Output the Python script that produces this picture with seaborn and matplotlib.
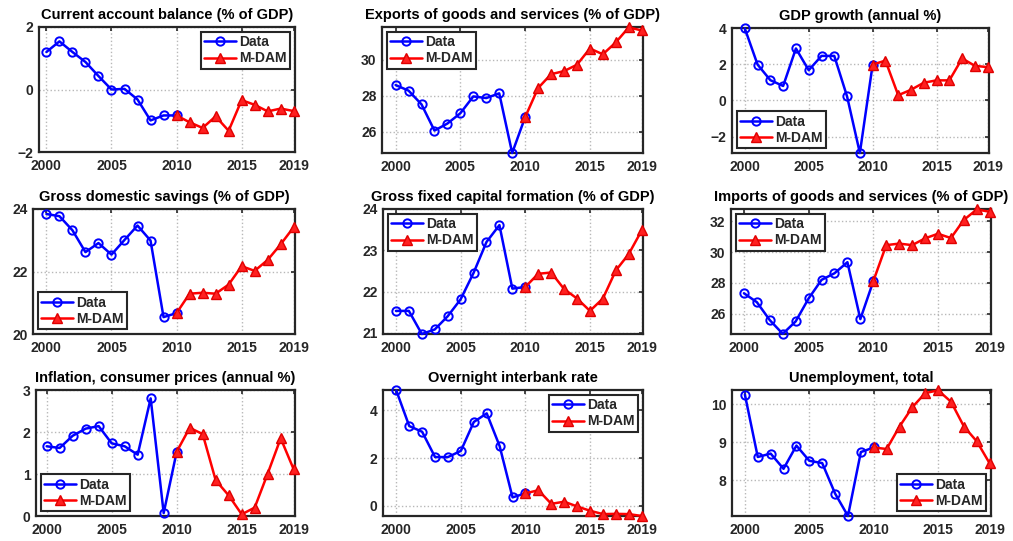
import matplotlib
matplotlib.use("Agg")
import matplotlib.pyplot as plt
import seaborn as sns

years_data = list(range(2000, 2011))
years_model = list(range(2010, 2020))

titles = [
    "Current account balance (% of GDP)",
    "Exports of goods and services (% of GDP)",
    "GDP growth (annual %)",
    "Gross domestic savings (% of GDP)",
    "Gross fixed capital formation (% of GDP)",
    "Imports of goods and services (% of GDP)",
    "Inflation, consumer prices (annual %)",
    "Overnight interbank rate",
    "Unemployment, total",
]

ca_data = [1.20, 1.54, 1.20, 0.88, 0.43, 0.00, 0.02, -0.32, -0.99, -0.83, -0.83]
ca_model = [-0.83, -1.05, -1.23, -0.86, -1.32, -0.34, -0.49, -0.70, -0.61, -0.69]

exp_data = [28.59, 28.28, 27.52, 26.07, 26.46, 27.03, 27.96, 27.87, 28.13, 24.83, 26.81]
exp_model = [26.81, 28.42, 29.19, 29.36, 29.71, 30.61, 30.29, 30.95, 31.78, 31.61]

gdp_data = [3.98, 1.98, 1.12, 0.80, 2.87, 1.67, 2.46, 2.46, 0.22, -2.90, 1.98]
gdp_model = [1.98, 2.20, 0.29, 0.59, 0.98, 1.11, 1.11, 2.32, 1.91, 1.84]

sav_data = [23.84, 23.77, 23.32, 22.62, 22.91, 22.54, 23.01, 23.47, 22.99, 20.54, 20.67]
sav_model = [20.67, 21.29, 21.32, 21.29, 21.58, 22.17, 22.02, 22.37, 22.87, 23.42]

gfcf_data = [21.53, 21.53, 20.97, 21.08, 21.40, 21.81, 22.45, 23.20, 23.61, 22.07, 22.11]
gfcf_model = [22.11, 22.43, 22.46, 22.06, 21.83, 21.53, 21.83, 22.51, 22.91, 23.48]

imp_data = [27.32, 26.74, 25.57, 24.68, 25.49, 26.98, 28.19, 28.62, 29.34, 25.64, 28.10]
imp_model = [28.10, 30.45, 30.55, 30.45, 30.89, 31.19, 30.91, 32.09, 32.77, 32.62]

inf_data = [1.66, 1.62, 1.91, 2.08, 2.14, 1.73, 1.66, 1.46, 2.80, 0.07, 1.53]
inf_model = [1.53, 2.10, 1.95, 0.85, 0.49, 0.04, 0.20, 1.01, 1.85, 1.11]

rate_data = [4.83, 3.34, 3.10, 2.04, 2.04, 2.30, 3.51, 3.87, 2.50, 0.35, 0.52]
rate_model = [0.52, 0.65, 0.08, 0.17, -0.03, -0.21, -0.35, -0.34, -0.35, -0.43]

unemp_data = [10.25, 8.61, 8.70, 8.30, 8.91, 8.51, 8.45, 7.65, 7.06, 8.74, 8.86]
unemp_model = [8.86, 8.82, 9.41, 9.92, 10.29, 10.36, 10.06, 9.41, 9.02, 8.44]

x_ticks = [2000, 2005, 2010, 2015, 2019]
y_ticks = [
    [-2, 0, 2],
    [26, 28, 30],
    [-2, 0, 2, 4],
    [20, 22, 24],
    [21, 22, 23, 24],
    [26, 28, 30, 32],
    [0, 1, 2, 3],
    [0, 2, 4],
    [8, 9, 10],
]
legend_labels = ["Data", "M-DAM"]

data_series = [ca_data, exp_data, gdp_data, sav_data, gfcf_data, imp_data,
               inf_data, rate_data, unemp_data]
model_series = [ca_model, exp_model, gdp_model, sav_model, gfcf_model, imp_model,
                inf_model, rate_model, unemp_model]

# layout (pixels: left, top, right, bottom) and limits
rects = [
    (39, 27, 295, 152), (382, 27, 643, 153), (732, 28, 989, 153),
    (33, 209, 295, 334), (383, 209, 643, 334), (731, 209, 991, 334),
    (36, 390, 295, 516), (383, 390, 643, 516), (732, 390, 991, 516),
]
xlims = [(1999.43, 2019.1), (1998.95, 2019.1), (1999.0, 2019.1),
         (1998.97, 2019.1), (1999.0, 2019.1), (1999.0, 2019.1),
         (1999.18, 2019.1), (1998.97, 2019.1), (1999.0, 2019.1)]
ylims = [(-2, 2), (24.83, 31.8), (-2.9, 4.0), (20, 24), (20.97, 24),
         (24.67, 32.8), (0, 3), (-0.43, 4.85), (7.06, 10.37)]
legend_locs = ["upper right", "upper left", "lower left",
               "lower left", "upper left", "upper left",
               "lower left", "upper right", "lower right"]

sns.set_theme(style="white")
plt.rcParams['font.family'] = ['Liberation Sans', 'DejaVu Sans']

W, H = 1013, 541
fig = plt.figure(figsize=(W / 100, H / 100), dpi=100)
fig.patch.set_facecolor("white")

for i in range(9):
    l, t, r, b = rects[i]
    ax = fig.add_axes([l / W, 1 - b / H, (r - l) / W, (b - t) / H])
    sns.lineplot(x=years_data, y=data_series[i], ax=ax, color="#0000ff",
                 marker="o", markerfacecolor="none", markeredgecolor="#0000ff",
                 markeredgewidth=1.4, markersize=6, linewidth=1.8,
                 label=legend_labels[0], clip_on=False, zorder=3)
    sns.lineplot(x=years_model, y=model_series[i], ax=ax, color="#ff0000",
                 marker="^", markerfacecolor="#ff2020", markeredgecolor="#e00000",
                 markeredgewidth=1.0, markersize=7, linewidth=1.8,
                 label=legend_labels[1], clip_on=False, zorder=4)
    ax.set_xlim(*xlims[i])
    ax.set_ylim(*ylims[i])
    ax.set_xticks(x_ticks)
    ax.set_yticks(y_ticks[i])
    ax.set_xticklabels([str(v) for v in x_ticks])
    ax.set_xlabel("")
    ax.set_ylabel("")
    ax.grid(True, linestyle=":", color="#b8b8b8", linewidth=1.0)
    ax.tick_params(direction="in", top=True, right=True, length=3, width=1.2,
                   labelsize=10, colors="#262626")
    ax.tick_params(axis="x", pad=5)
    ax.tick_params(axis="y", pad=4)
    for lab in ax.get_xticklabels() + ax.get_yticklabels():
        lab.set_fontweight("bold")
    for sp in ax.spines.values():
        sp.set_linewidth(1.6)
        sp.set_color("#262626")
    ax.set_title(titles[i], fontsize=10.5, fontweight="bold", pad=5.5, color="black")
    leg = ax.legend(loc=legend_locs[i], prop={"weight": "bold", "size": 10},
                    frameon=True, fancybox=False, edgecolor="#262626",
                    framealpha=1, borderpad=0.25, labelspacing=0.15,
                    handlelength=2.3, handletextpad=0.2, borderaxespad=0.35)
    leg.get_frame().set_linewidth(1.5)

fig.savefig("out.png", dpi=100, facecolor="white")
